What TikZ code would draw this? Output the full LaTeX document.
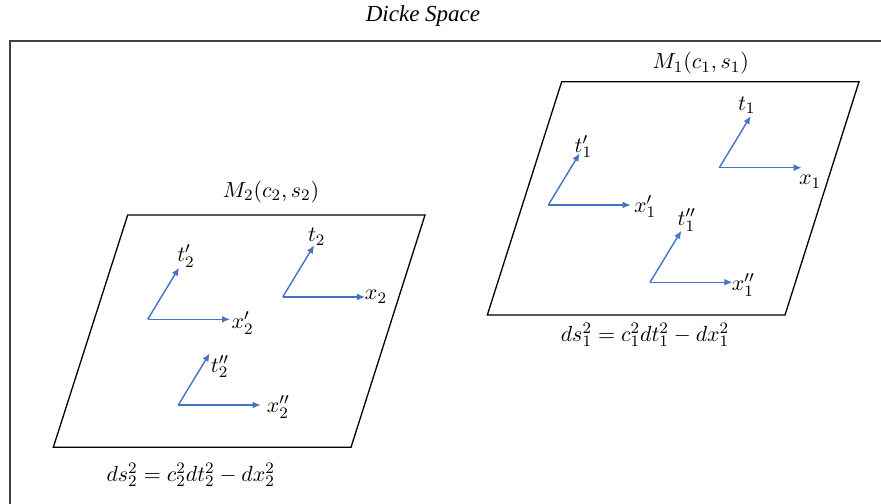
\documentclass[tikz,border=0pt]{standalone}
\usepackage{fontspec}
\usepackage{tikz}
\usetikzlibrary{arrows.meta,positioning}
\newfontfamily\titlefont{Liberation Serif}
\definecolor{frameblue}{RGB}{68,114,196}
\definecolor{boxgray}{RGB}{64,64,64}

\begin{document}
\begin{tikzpicture}[
  x=0.5pt,y=-0.5pt,
  every node/.style={font=\fontsize{11}{13}\selectfont,inner sep=1pt},
  framearrow/.style={draw=frameblue,line width=0.7pt,-{Latex[length=4pt,width=3.4pt]}},
  sheet/.style={draw=black,line width=0.65pt},
]
  \useasboundingbox (0,0) rectangle (881,503);
  \clip (0,0) rectangle (881,503);

  % Title
  \node[font=\fontsize{11.5}{13}\titlefont\itshape] (title) at (423,16) {Dicke Space};

  % Outer frame (cut by the page on the right and at the bottom)
  \coordinate (fbl) at (10,520);
  \coordinate (ftl) at (10,41);
  \coordinate (ftr) at (900,41);
  \draw[boxgray,line width=0.65pt] (fbl) -- (ftl) -- (ftr);

  % Manifold 1
  \coordinate (a1) at (561.7,81.7);
  \coordinate (b1) at (859,81.7);
  \coordinate (c1) at (785,315);
  \coordinate (d1) at (487.3,315);
  \draw[sheet] (a1) -- (b1) -- (c1) -- (d1) -- cycle;
  \node (m1) at (700.7,63.3) {$M_1(c_1,s_1)$};
  \node (ds1) at (645,335) {$ds_1^2=c_1^2dt_1^2-dx_1^2$};

  % Frames in manifold 1
  \coordinate (o1) at (719.3,167.7);
  \draw[framearrow] (o1) -- ++(31.4,-51.7) coordinate (t1tip);
  \draw[framearrow] (o1) -- ++(82.4,0) coordinate (x1tip);
  \node (t1) at (746.7,105) {$t_1$};
  \node (x1) at (810,181.7) {$x_1$};

  \coordinate (o1p) at (548.3,205);
  \draw[framearrow] (o1p) -- ++(31.4,-51.7) coordinate (t1ptip);
  \draw[framearrow] (o1p) -- ++(82.4,0) coordinate (x1ptip);
  \node (t1p) at (583.3,146.7) {$t_1'$};
  \node (x1p) at (645,206.7) {$x_1'$};

  \coordinate (o1pp) at (650,282.3);
  \draw[framearrow] (o1pp) -- ++(31.4,-51.7) coordinate (t1pptip);
  \draw[framearrow] (o1pp) -- ++(82.4,0) coordinate (x1pptip);
  \node (t1pp) at (686.7,220) {$t_1''$};
  \node (x1pp) at (743.3,285) {$x_1''$};

  % Manifold 2
  \coordinate (a2) at (127.7,215);
  \coordinate (b2) at (425,215);
  \coordinate (c2) at (351,447.3);
  \coordinate (d2) at (53.3,447.3);
  \draw[sheet] (a2) -- (b2) -- (c2) -- (d2) -- cycle;
  \node (m2) at (271,191.7) {$M_2(c_2,s_2)$};
  \node (ds2) at (190.7,475) {$ds_2^2=c_2^2dt_2^2-dx_2^2$};

  % Frames in manifold 2
  \coordinate (o2) at (282.7,297);
  \draw[framearrow] (o2) -- ++(31.4,-51.7) coordinate (t2tip);
  \draw[framearrow] (o2) -- ++(82.4,0) coordinate (x2tip);
  \node (t2) at (316.7,236.7) {$t_2$};
  \node (x2) at (376,296.7) {$x_2$};

  \coordinate (o2p) at (147.7,319.3);
  \draw[framearrow] (o2p) -- ++(31.4,-51.7) coordinate (t2ptip);
  \draw[framearrow] (o2p) -- ++(82.4,0) coordinate (x2ptip);
  \node (t2p) at (186,256) {$t_2'$};
  \node (x2p) at (242.7,323.3) {$x_2'$};

  \coordinate (o2pp) at (178.3,405);
  \draw[framearrow] (o2pp) -- ++(31.4,-51.7) coordinate (t2pptip);
  \draw[framearrow] (o2pp) -- ++(82.4,0) coordinate (x2pptip);
  \node (t2pp) at (220,366.7) {$t_2''$};
  \node (x2pp) at (278.3,407.3) {$x_2''$};
\end{tikzpicture}
\end{document}
